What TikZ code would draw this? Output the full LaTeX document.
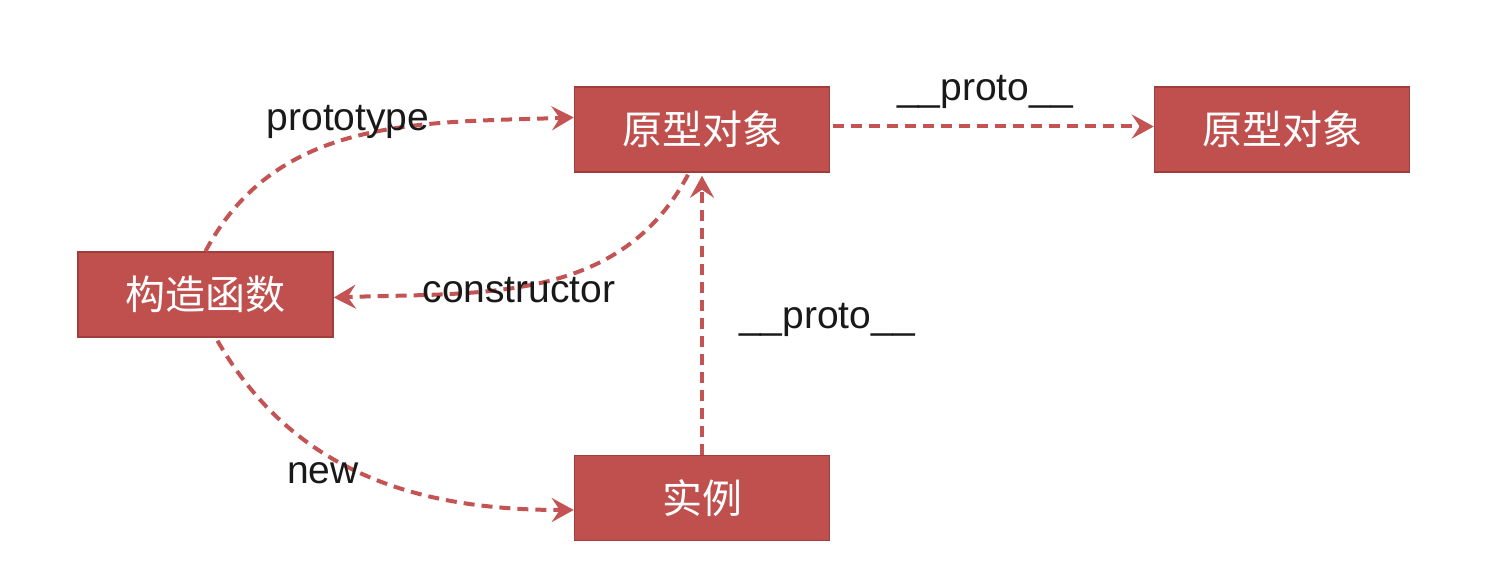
\documentclass[tikz,border=0pt]{standalone}
\usepackage{fontspec}
\setmainfont{Liberation Sans}
\newfontfamily\cjk{Noto Sans CJK SC}
\usetikzlibrary{arrows.meta}
\definecolor{boxred}{RGB}{192,80,77}
\definecolor{boxedge}{RGB}{160,62,60}
\definecolor{arrred}{RGB}{196,84,84}
\tikzset{
  redbox/.style={draw=boxedge, line width=1.5pt, fill=boxred, minimum width=255pt, minimum height=85pt, inner sep=0pt, text=white, font=\cjk\fontsize{40pt}{42pt}\selectfont},
  relarrow/.style={draw=arrred, line width=4pt, dash pattern=on 11pt off 7pt, -{Stealth[length=22pt,width=24pt,inset=8pt]}},
  lbl/.style={inner sep=0pt, text=black!90, font=\fontsize{39pt}{42pt}\selectfont}
}
\begin{document}
\begin{tikzpicture}[x=1pt,y=1pt]
\useasboundingbox (0,0) rectangle (1505,-577);
\fill[white] (0,0) rectangle (1505,-577);
\node[redbox] (ctor) at (205.5,-294.5) {构造函数};
\node[redbox] (p1) at (702,-129.5) {原型对象};
\node[redbox] (p2) at (1282,-129.5) {原型对象};
\node[redbox] (inst) at (702,-498) {实例};
\draw[relarrow] (ctor.north) to[out=62,in=182] ([yshift=12pt]p1.west);
\draw[relarrow] ([xshift=-14pt,yshift=-2pt]p1.south) to[out=-118,in=2] ([yshift=-3pt]ctor.east);
\draw[relarrow] ([xshift=12pt,yshift=-3pt]ctor.south) to[out=-60,in=180] ([yshift=-12pt]inst.west);
\draw[relarrow] (inst.north) -- ([yshift=-3pt]p1.south);
\draw[relarrow] ([xshift=3pt,yshift=3pt]p1.east) -- ([yshift=3pt]p2.west);
\node[lbl] (lproto) at (348,-122) {prototype};
\node[lbl] (lctor) at (519,-290) {constructor};
\node[lbl] (lnew) at (323,-473) {new};
\node[lbl] (lpv) at (827,-320) {\_\_proto\_\_};
\node[lbl] (lph) at (985,-92) {\_\_proto\_\_};
\end{tikzpicture}
\end{document}
